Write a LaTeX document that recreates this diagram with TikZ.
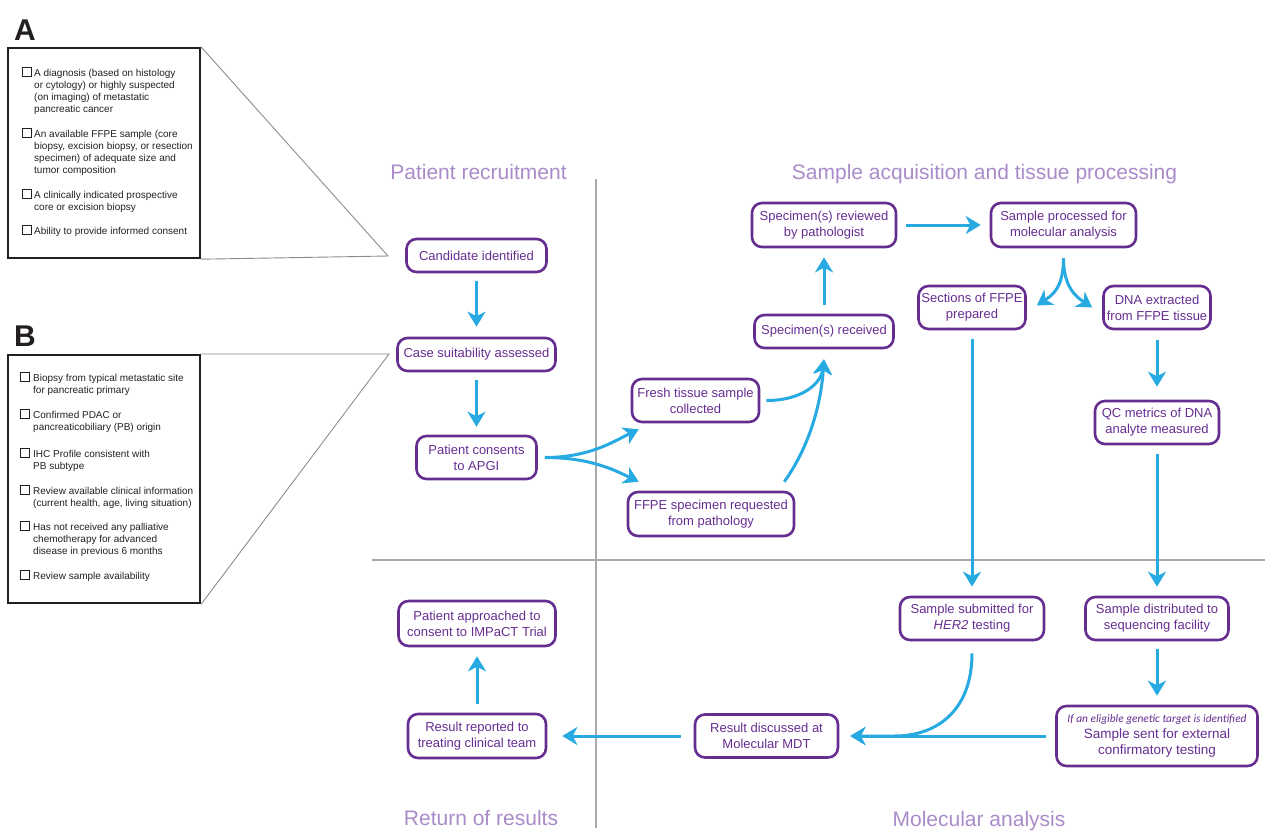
\documentclass[tikz,border=0pt]{standalone}
\usepackage{fontspec}
\setmainfont{Liberation Sans}
\newfontfamily\carl{Carlito}
\usetikzlibrary{arrows.meta,calc}
\definecolor{pur}{HTML}{662D91}
\definecolor{lav}{HTML}{A98BC9}
\definecolor{arrblue}{HTML}{27AAE1}
\definecolor{divgrey}{HTML}{A7A9AC}
\definecolor{trigrey}{HTML}{8C8C8C}
\definecolor{ink}{HTML}{231F20}
\begin{document}
\begin{tikzpicture}[x=1pt,y=-1pt,
  box/.style={draw=pur, line width=2.6pt, rounded corners=10pt, text=pur, align=center,
    inner sep=0pt, font=\fontsize{13}{16}\selectfont},
  arr/.style={draw=arrblue, line width=3pt, -{Stealth[length=15pt,width=18pt,inset=4.5pt]}},
  hdr/.style={text=lav, font=\fontsize{21}{25}\selectfont, anchor=base, inner sep=0pt},
  item/.style={anchor=base west, inner sep=0pt, text=ink, font=\fontsize{10}{12}\selectfont},
  cbox/.style={draw=ink, line width=0.9pt},
  panel/.style={draw=ink, line width=2.2pt, anchor=north west, inner sep=0pt},
  letter/.style={anchor=base west, inner sep=0pt, text=ink, font=\fontsize{30}{30}\selectfont\bfseries},
  tri/.style={draw=trigrey, line width=0.9pt},
  divider/.style={draw=divgrey, line width=2.2pt}
]
\useasboundingbox (0,0) rectangle (1265,830);

% ---------- panel A ----------
\node[letter] (labA) at (14,40) {A};
\node[panel, minimum width=192pt, minimum height=210pt] (boxA) at (7,47) {};
\coordinate (tipA) at (388,256);
\draw[tri] (boxA.north east) -- (tipA) -- (boxA.south east);

\draw[cbox] (22.5,67.5) rectangle (31.5,76.5);
\node[item] (a11) at (34,76.5) {A diagnosis (based on histology};
\node[item] (a12) at (34,88.5) {or cytology) or highly suspected};
\node[item] (a13) at (34,100.5) {(on imaging) of metastatic};
\node[item] (a14) at (34,112.5) {pancreatic cancer};
\draw[cbox] (22.5,128.5) rectangle (31.5,137.5);
\node[item] (a21) at (34,137.5) {An available FFPE sample (core};
\node[item] (a22) at (34,149.5) {biopsy, excision biopsy, or resection};
\node[item] (a23) at (34,161.5) {specimen) of adequate size and};
\node[item] (a24) at (34,173.5) {tumor composition};
\draw[cbox] (22.5,189) rectangle (31.5,198);
\node[item] (a31) at (34,198) {A clinically indicated prospective};
\node[item] (a32) at (34,210) {core or excision biopsy};
\draw[cbox] (22.5,225) rectangle (31.5,234);
\node[item] (a41) at (34,234) {Ability to provide informed consent};

% ---------- panel B ----------
\node[letter] (labB) at (14,346) {B};
\node[panel, minimum width=192pt, minimum height=248pt] (boxB) at (7,354) {};
\coordinate (tipB) at (389,354);
\draw[tri] (boxB.north east) -- (tipB) -- (boxB.south east);

\draw[cbox] (20.5,372.5) rectangle (29.5,381.5);
\node[item] (b11) at (33,381.5) {Biopsy from typical metastatic site};
\node[item] (b12) at (33,393.5) {for pancreatic primary};
\draw[cbox] (20.5,409) rectangle (29.5,418);
\node[item] (b21) at (33,418) {Confirmed PDAC or};
\node[item] (b22) at (33,430) {pancreaticobiliary (PB) origin};
\draw[cbox] (20.5,448) rectangle (29.5,457);
\node[item] (b31) at (33,457) {IHC Profile consistent with};
\node[item] (b32) at (33,469) {PB subtype};
\draw[cbox] (20.5,485) rectangle (29.5,494);
\node[item] (b41) at (33,494) {Review available clinical information};
\node[item] (b42) at (33,506) {(current health, age, living situation)};
\draw[cbox] (20.5,521.5) rectangle (29.5,530.5);
\node[item] (b51) at (33,530.5) {Has not received any palliative};
\node[item] (b52) at (33,542.5) {chemotherapy for advanced};
\node[item] (b53) at (33,554.5) {disease in previous 6 months};
\draw[cbox] (20.5,570.5) rectangle (29.5,579.5);
\node[item] (b61) at (33,579.5) {Review sample availability};

% ---------- dividers ----------
\draw[divider] (596,179) -- (596,828);
\draw[divider] (372,560) -- (1265,560);

% ---------- headers ----------
\node[hdr] (h1) at (478.5,179) {Patient recruitment};
\node[hdr] (h2) at (984.5,179) {Sample acquisition and tissue processing};
\node[hdr] (h3) at (481,825) {Return of results};
\node[hdr] (h4) at (979,826) {Molecular analysis};

% ---------- nodes ----------
\node[box, minimum width=140pt, minimum height=33pt] (cand) at (476.5,255.5) {Candidate identified};
\node[box, minimum width=158pt, minimum height=33pt] (case) at (476.5,354.5) {Case suitability assessed};
\node[box, minimum width=120pt, minimum height=43pt] (pc) at (476.5,457.5) {Patient consents\\to APGI};
\node[box, minimum width=127pt, minimum height=43pt] (fresh) at (695.5,400.5) {Fresh tissue sample\\collected};
\node[box, minimum width=166pt, minimum height=44pt] (ffpe) at (711,514) {FFPE specimen requested\\from pathology};
\node[box, minimum width=139pt, minimum height=33pt] (recv) at (824,331.5) {Specimen(s) received};
\node[box, minimum width=144pt, minimum height=44pt] (rev) at (824,225) {Specimen(s) reviewed\\by pathologist};
\node[box, minimum width=145pt, minimum height=44pt] (proc) at (1063.5,225) {Sample processed for\\molecular analysis};
\node[box, minimum width=107pt, minimum height=43pt] (sect) at (972,307.5) {Sections of FFPE\\prepared};
\node[box, minimum width=107pt, minimum height=43pt] (dna) at (1157,307.5) {DNA extracted\\from FFPE tissue};
\node[box, minimum width=124pt, minimum height=43pt] (qc) at (1157,422.5) {QC metrics of DNA\\analyte measured};
\node[box, minimum width=144pt, minimum height=43pt] (her) at (972,618.5) {Sample submitted for\\\textit{HER2} testing};
\node[box, minimum width=143pt, minimum height=43pt] (dist) at (1157,618.5) {Sample distributed to\\sequencing facility};
\node[box, minimum width=201pt, minimum height=60pt] (sent) at (1157,736)
  {{\carl\itshape\fontsize{11.4}{16}\selectfont If an eligible genetic target is identified}\\
   \fontsize{13.5}{16}\selectfont Sample sent for external\\\fontsize{13.5}{16}\selectfont confirmatory testing};
\node[box, minimum width=143pt, minimum height=43pt] (mdt) at (766.5,736) {Result discussed at\\Molecular MDT};
\node[box, minimum width=138pt, minimum height=44pt] (rep) at (477,736) {Result reported to\\treating clinical team};
\node[box, minimum width=157pt, minimum height=45pt] (appr) at (477,623.5) {Patient approached to\\consent to IMPaCT Trial};

% ---------- connectors ----------
\draw[arr, shorten <=8pt, shorten >=10pt] (cand) -- (case);
\draw[arr, shorten <=8pt, shorten >=8pt] (case) -- (pc);
\draw[arr] ($(pc.east)+(7,0)$) .. controls +(45,0) and +(-25,12) .. ($(fresh.south west)+(8,6)$);
\draw[arr] ($(pc.east)+(7,0)$) .. controls +(45,0) and +(-25,-12) .. ($(ffpe.north west)+(12,-9)$);
\draw[arr] ($(fresh.east)+(6,0)$) .. controls +(35,0) and +(-3,25) .. ($(recv.south)+(0,10)$);
\draw[arr] ($(ffpe.north east)+(-11,-9)$) .. controls +(25,-35) and +(-3,45) .. ($(recv.south)+(0,10)$);
\draw[arr, shorten <=9pt, shorten >=9pt] (recv) -- (rev);
\draw[arr, shorten <=9pt, shorten >=9pt] (rev) -- (proc);
\draw[arr] ($(proc.south)+(0,10)$) .. controls +(0,30) and +(15,-10) .. ($(sect.east)+(10,-2)$);
\draw[arr] ($(proc.south)+(0,10)$) .. controls +(0,30) and +(-15,-10) .. ($(dna.west)+(-10,0)$);
\draw[arr, shorten <=9pt, shorten >=9pt] (sect) -- (her);
\draw[arr, shorten <=10pt, shorten >=13pt] (dna) -- (qc);
\draw[arr, shorten <=9pt, shorten >=9pt] (qc) -- (dist);
\draw[arr, shorten <=8pt, shorten >=9pt] (dist) -- (sent);
\draw[arr, shorten <=9pt, shorten >=11pt] (sent) -- (mdt);
\draw[arr] ($(her.south)+(0,12)$) .. controls +(0,55) and +(45,0) .. ($(mdt.east)+(55,0)$) -- ($(mdt.east)+(11,0)$);
\draw[arr, shorten <=13pt, shorten >=15pt] (mdt) -- (rep);
\draw[arr, shorten <=9pt, shorten >=9pt] (rep) -- (appr);
\end{tikzpicture}
\end{document}
